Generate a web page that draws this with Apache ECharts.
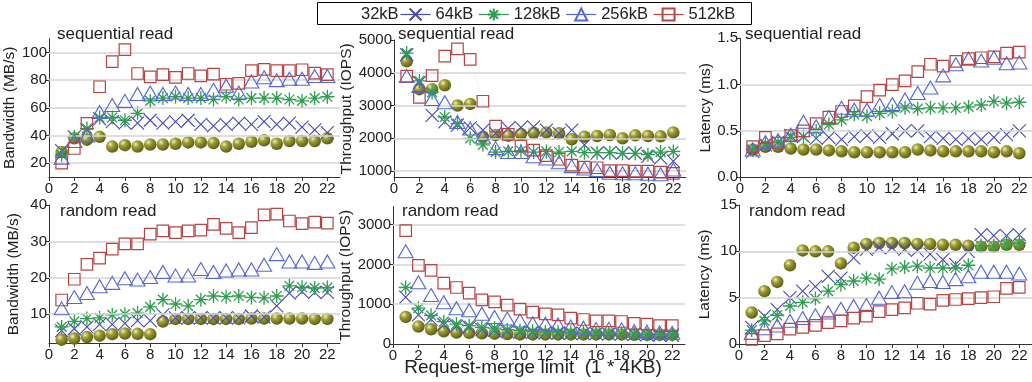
<!DOCTYPE html>
<html><head><meta charset="utf-8">
<script src="https://cdn.jsdelivr.net/npm/echarts@6/dist/echarts.min.js"></script>
<style>html,body{margin:0;padding:0;background:#fff}#c{width:1032px;height:382px}</style>
</head><body><div id="c"></div>
<script>
const mergeLimit = [1,2,3,4,5,6,7,8,9,10,11,12,13,14,15,16,17,18,19,20,21,22];
const seriesNames = ['32kB','64kB','128kB','256kB','512kB'];
const xTickLabels = [0,2,4,6,8,10,12,14,16,18,20,22];

// sequential read - bandwidth (MB/s)
const seqBw32  = [28,38,37,39,32,33,32,33.5,33.5,34,35,35,34.5,32,34,35.5,36.5,34,36,36,36,38];
const seqBw64  = [29,39,44,52,50,49,49,51,49,50,51,48,47,48,49,48,50,48,49,46,44,42];
const seqBw128 = [26,39,45,53,53,51,56,65,67,68,67,67,66,68,66,67,67,67,66,65,67,68];
const seqBw256 = [24,36,40,57,62,65,70,71,70,71,70,70,73,76,71,79,82,80,81,81,83,83];
const seqBw512 = [20,30.6,48.7,75.2,93.3,102,84.8,82.4,83.9,82,84.8,83,84.3,77,77.6,86.8,87.7,86.8,86.8,87.5,85,84];
// sequential read - throughput (IOPS)
const seqIops32  = [4350,3500,3500,3620,3000,3050,2050,2100,2080,2130,2170,2180,2150,1970,2050,2070,2100,2000,2090,2070,2060,2180];
const seqIops64  = [4550,3700,2700,2500,2400,2320,2250,2150,2300,2330,2350,2250,2150,2250,1800,1550,1560,1550,1540,1450,1400,1300];
const seqIops128 = [4600,3750,3400,2650,2450,2000,1800,1580,1600,1620,1580,1600,1580,1600,1560,1560,1560,1540,1540,1500,1580,1600];
const seqIops256 = [3900,3600,3200,3100,2500,2300,2050,1700,1580,1580,1450,1380,1270,1150,1080,1030,950,930,930,920,900,1050];
const seqIops512 = [3900,3250,3910,4510,4730,4410,3130,2370,2120,1760,1640,1470,1360,1180,1120,1100,1010,1010,1000,1000,970,930];
// sequential read - latency (ms)
const seqLat32  = [0.30,0.33,0.33,0.31,0.30,0.30,0.29,0.28,0.27,0.27,0.27,0.27,0.27,0.30,0.29,0.28,0.28,0.28,0.28,0.27,0.28,0.26];
const seqLat64  = [0.28,0.35,0.38,0.45,0.44,0.42,0.43,0.41,0.44,0.45,0.43,0.47,0.50,0.50,0.44,0.42,0.41,0.42,0.41,0.43,0.46,0.50];
const seqLat128 = [0.30,0.36,0.38,0.43,0.44,0.50,0.57,0.62,0.68,0.66,0.69,0.71,0.75,0.74,0.75,0.75,0.75,0.76,0.78,0.82,0.80,0.81];
const seqLat256 = [0.30,0.38,0.40,0.46,0.60,0.55,0.65,0.75,0.73,0.73,0.78,0.79,0.84,0.91,0.97,1.10,1.22,1.28,1.26,1.29,1.23,1.24];
const seqLat512 = [0.33,0.43,0.37,0.45,0.50,0.58,0.65,0.71,0.77,0.87,0.94,1.00,1.04,1.14,1.22,1.20,1.25,1.28,1.29,1.30,1.34,1.35];
// random read - bandwidth (MB/s)
const rndBw32  = [3,3.3,3.7,4.1,4.5,4.7,4.6,4.5,8,8.7,8.7,8.7,8.7,8.7,8.7,8.8,8.8,8.8,8.8,8.8,8.7,8.7];
const rndBw64  = [5.5,6,6.5,7.2,7.2,7.5,8.2,8.2,9.8,9,9,9,9,9,9,9.5,9.2,12.3,15.8,16.2,16,16];
const rndBw128 = [6.5,8,8.8,9,9.8,10,10.3,12,14,12.8,12.3,14,15,14.8,15,14.6,14.5,15,17.8,17.4,17.2,17.3];
const rndBw256 = [11.6,14.7,15.8,17.7,18.6,19.9,19.5,20.2,21.6,20.6,20.6,22.4,21.6,22,22.3,22.3,23.6,26.5,24.5,24.5,24.1,24.5];
const rndBw512 = [13.9,19.6,23.7,25.4,27.9,29.3,29.3,32,32.9,32.4,32.9,33.1,34.7,33.6,32.4,33.8,37.3,37.5,35.6,34.9,35.3,35];
// random read - throughput (IOPS)
const rndIops32  = [680,440,370,320,290,280,270,260,250,240,240,240,240,240,240,240,240,240,230,230,230,230];
const rndIops64  = [1180,730,620,490,450,420,360,340,310,300,290,280,270,270,260,260,250,250,240,230,220,220];
const rndIops128 = [1420,900,720,560,500,460,420,400,360,340,320,300,300,290,280,280,270,260,250,240,240,230];
const rndIops256 = [2330,1550,1230,1050,900,850,760,680,640,590,520,510,490,440,410,380,380,370,320,310,290,280];
const rndIops512 = [2850,1975,1850,1530,1420,1280,1110,1060,975,875,800,755,730,650,615,580,580,565,520,500,460,460];
// random read - latency (ms)
const rndLat32  = [3.4,5.7,6.7,8.5,10.1,10.0,10.0,8.7,10.4,10.8,10.9,10.9,10.9,10.8,10.8,10.7,10.7,10.6,10.5,10.5,10.7,10.7];
const rndLat64  = [1.8,3.0,3.7,5.0,5.7,6.2,7.3,7.1,9.3,10.2,10.4,10.4,10.2,10.1,9.7,9.1,8.6,10.0,11.8,11.7,11.7,11.8];
const rndLat128 = [1.5,2.5,3.1,4.1,4.5,4.9,5.7,6.4,6.8,7.1,7.0,8.1,8.3,8.4,8.2,8.2,8.2,8.5,10.6,10.6,10.8,10.9];
const rndLat256 = [1.2,1.7,2.0,2.5,2.8,3.1,3.4,3.8,4.1,4.2,5.0,5.6,5.7,6.6,6.8,6.7,7.0,7.3,7.8,7.8,7.8,7.6];
const rndLat512 = [0.5,0.9,1.1,1.6,1.8,2.0,2.3,2.5,2.8,3.0,3.5,3.7,3.9,4.4,4.3,4.7,4.8,4.9,5.0,5.1,6.0,6.1];

// y tick labels per panel
const seqBwTicks = [20,40,60,80,100];
const seqIopsTicks = [1000,2000,3000,4000,5000];
const seqLatTicks = [0,0.5,1.0,1.5];
const rndBwTicks = [10,20,30,40];
const rndIopsTicks = [0,1000,2000,3000];
const rndLatTicks = [0,5,10,15];

const panelTitles = ['sequential read','sequential read','sequential read','random read','random read','random read'];
const yNames = ['Bandwidth (MB/s)','Throughput (IOPS)','Latency (ms)','Bandwidth (MB/s)','Throughput (IOPS)','Latency (ms)'];

const panels = [
  {data:[seqBw32,seqBw64,seqBw128,seqBw256,seqBw512], ticks:seqBwTicks, grid:{left:49,top:38.6,width:291,height:138.4}, min:10, max:110, gap:27, dec:0},
  {data:[seqIops32,seqIops64,seqIops128,seqIops256,seqIops512], ticks:seqIopsTicks, grid:{left:394,top:40,width:292,height:137.6}, min:800, max:5000, gap:37, dec:0},
  {data:[seqLat32,seqLat64,seqLat128,seqLat256,seqLat512], ticks:seqLatTicks, grid:{left:740,top:38.3,width:292,height:139}, min:0, max:1.5, gap:26, dec:1},
  {data:[rndBw32,rndBw64,rndBw128,rndBw256,rndBw512], ticks:rndBwTicks, grid:{left:49,top:205,width:291,height:138.3}, min:2, max:40, gap:27, dec:0},
  {data:[rndIops32,rndIops64,rndIops128,rndIops256,rndIops512], ticks:rndIopsTicks, grid:{left:393,top:206.7,width:292,height:137.3}, min:0, max:3450, gap:37, dec:0},
  {data:[rndLat32,rndLat64,rndLat128,rndLat256,rndLat512], ticks:rndLatTicks, grid:{left:739,top:205,width:293,height:139}, min:0, max:15, gap:26, dec:0}
];
const titlePos = [[57,26],[398,26],[745,26],[60,203],[402,203],[749,203]];

const sphere = new echarts.graphic.RadialGradient(0.35, 0.32, 0.75, [
  {offset:0, color:'#eeeeb8'},{offset:0.35, color:'#9c9c34'},{offset:1, color:'#56560c'}]);
const styles = [
  {symbol:'circle', size:12.5, item:{color:sphere, borderWidth:0}, line:'#8a8a30'},
  {symbol:'path://M0,0L10,10M10,0L0,10', size:13, item:{color:'rgba(0,0,0,0)', borderColor:'#4848b8', borderWidth:1.1}, line:'#4848b8'},
  {symbol:'path://M5,0L5,10M0,5L10,5M1.5,1.5L8.5,8.5M8.5,1.5L1.5,8.5', size:14, item:{color:'rgba(0,0,0,0)', borderColor:'#2f9e4e', borderWidth:1.3}, line:'#2f9e4e'},
  {symbol:'path://M5,0L10,8.66L0,8.66Z', size:[15,13], item:{color:'rgba(0,0,0,0)', borderColor:'#5668d4', borderWidth:1.1}, line:'#5668d4'},
  {symbol:'rect', size:11.5, item:{color:'rgba(0,0,0,0)', borderColor:'#b84444', borderWidth:1.2}, line:'#b84444'}
];

const axisTxt = {color:'#222', fontFamily:'Liberation Sans, Arial, sans-serif'};
const grid=[], xAxis=[], yAxis=[], series=[], title=[];
panels.forEach((p, i) => {
  grid.push(Object.assign({containLabel:false}, p.grid));
  xAxis.push({type:'value', gridIndex:i, min:0, max:23,
    axisLine:{show:true, onZero:false, lineStyle:{color:'#333', width:1}},
    axisTick:{show:true, length:4, customValues:xTickLabels, lineStyle:{color:'#333'}},
    axisLabel:{customValues:xTickLabels, fontSize:15, margin:4, ...axisTxt},
    splitLine:{show:false}});
  yAxis.push({type:'value', gridIndex:i, min:p.min, max:p.max,
    name:yNames[i], nameLocation:'middle', nameGap:p.gap, nameRotate:90,
    nameTextStyle:{fontSize:15.5, ...axisTxt},
    axisLine:{show:true, onZero:false, lineStyle:{color:'#333', width:1}},
    axisTick:{show:true, length:4, customValues:p.ticks, lineStyle:{color:'#333'}},
    axisLabel:{customValues:p.ticks, fontSize:15, margin:2, ...axisTxt,
      formatter: v => p.dec ? v.toFixed(p.dec) : String(v)},
    splitLine:{show:false}});
  title.push({text:panelTitles[i], left:titlePos[i][0], top:titlePos[i][1], padding:0,
    textStyle:{fontSize:17, fontWeight:'normal', color:'#222', fontFamily:'Liberation Sans, Arial, sans-serif'}});
  // gridlines
  series.push({type:'line', xAxisIndex:i, yAxisIndex:i, data:[], silent:true, z:0,
    markLine:{silent:true, symbol:'none', animation:false, label:{show:false},
      lineStyle:{color:'#d4d4d4', width:1.5, type:'solid'},
      data:p.ticks.filter(t => t > p.min && t < p.max).map(t => ({yAxis:t}))}});
  p.data.forEach((vals, k) => {
    const s = styles[k];
    series.push({name:seriesNames[k], type:'line', xAxisIndex:i, yAxisIndex:i,
      data: mergeLimit.map((x, j) => [x, vals[j]]),
      symbol:s.symbol, symbolSize:s.size, showAllSymbol:true, z:2+k,
      itemStyle:s.item, lineStyle:{color:s.line, width:1, opacity:0.07},
      emphasis:{disabled:true}});
  });
});

const chart = echarts.init(document.getElementById('c'), null, {renderer:'canvas'});
chart.setOption({
  animation:false, backgroundColor:'#fff',
  title, grid, xAxis, yAxis, series,
  legend:{data:seriesNames.slice(1), left:400, top:6, padding:0, itemGap:5, itemWidth:30, itemHeight:15,
    textStyle:{fontSize:16.5, color:'#222', fontFamily:'Liberation Sans, Arial, sans-serif'},
    lineStyle:{opacity:1, width:1.2}, selectedMode:false},
  graphic:[
    {type:'rect', shape:{x:317.5, y:2.5, width:434, height:22}, style:{fill:'none', stroke:'#000', lineWidth:1}, z:100},
    {type:'text', x:361, y:14, style:{text:'32kB', fontSize:16.5, fill:'#222', fontFamily:'Liberation Sans, Arial, sans-serif', verticalAlign:'middle'}},
    {type:'text', x:533, y:368, style:{text:'Request-merge limit  (1 * 4KB)', fontSize:19, fill:'#222', fontFamily:'Liberation Sans, Arial, sans-serif', align:'center', verticalAlign:'middle'}}
  ]
});
</script></body></html>
